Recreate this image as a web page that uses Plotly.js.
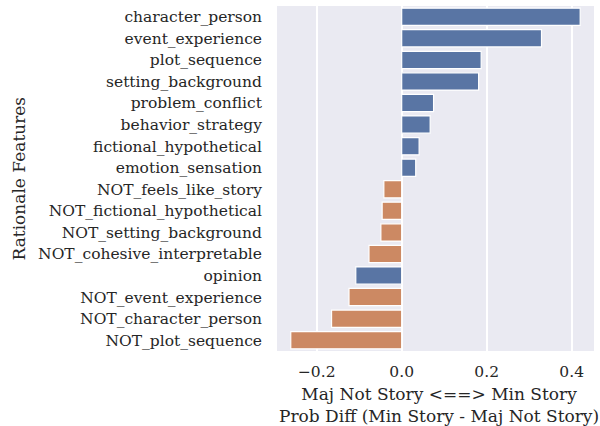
<!DOCTYPE html>
<html>
<head>
<meta charset="utf-8">
<script src="https://cdn.plot.ly/plotly-3.0.1.min.js"></script>
<style>html,body{margin:0;padding:0;background:#fff;}#chart{width:600px;height:426px;}</style>
</head>
<body>
<div id="chart"></div>
<script>
const features = [
  "character_person","event_experience","plot_sequence","setting_background",
  "problem_conflict","behavior_strategy","fictional_hypothetical","emotion_sensation",
  "NOT_feels_like_story","NOT_fictional_hypothetical","NOT_setting_background",
  "NOT_cohesive_interpretable","opinion","NOT_event_experience","NOT_character_person",
  "NOT_plot_sequence"
];
const probDiff = [0.420, 0.329, 0.187, 0.181, 0.075, 0.067, 0.041, 0.033,
  -0.042, -0.046, -0.049, -0.077, -0.108, -0.124, -0.165, -0.261];
const isNegatedFeature = features.map(f => f.startsWith("NOT_"));
const xTickVals = [-0.2, 0.0, 0.2, 0.4];

const BLUE = "#5975a4", ORANGE = "#cc8963", TXT = "#262626";
const serif = "'DejaVu Serif', 'Liberation Serif', serif";

const trace = {
  type: "bar",
  orientation: "h",
  x: probDiff,
  y: features,
  marker: {
    color: isNegatedFeature.map(n => n ? ORANGE : BLUE),
    line: {color: "#ffffff", width: 1.2}
  },
  hoverinfo: "x+y"
};

const layout = {
  width: 600, height: 426,
  margin: {l: 277, r: 6, t: 6, b: 75},
  paper_bgcolor: "#ffffff",
  plot_bgcolor: "#eaeaf2",
  bargap: 0.2,
  showlegend: false,
  font: {family: serif, color: TXT, size: 15.5},
  xaxis: {
    range: [-0.2934, 0.4525],
    tickvals: xTickVals,
    tickformat: ".1f",
    showgrid: true, gridcolor: "#ffffff", gridwidth: 1.5,
    zeroline: false, showline: false, ticks: "",
    ticklabelstandoff: 9,
    tickfont: {family: serif, size: 15.5, color: TXT},
    fixedrange: true
  },
  yaxis: {
    type: "category",
    categoryorder: "array",
    categoryarray: features,
    range: [15.5, -0.5],
    showgrid: false, zeroline: false, showline: false, ticks: "",
    ticklabelstandoff: 14,
    tickfont: {family: serif, size: 15.5, color: TXT},
    fixedrange: true
  },
  annotations: [
    {text: "Maj Not Story <==> Min Story<br>Prob Diff (Min Story - Maj Not Story)",
     xref: "paper", yref: "paper", x: 0.51, y: (426 - 75 - 405) / 345, xanchor: "center", yanchor: "middle",
     align: "center",
     showarrow: false, font: {family: serif, size: 17, color: TXT}},
    {text: "Rationale Features", textangle: -90,
     xref: "paper", yref: "paper", x: (18 - 277) / 317, y: 0.5, xanchor: "center", yanchor: "middle",
     showarrow: false, font: {family: serif, size: 17, color: TXT}}
  ]
};

Plotly.newPlot("chart", [trace], layout, {displayModeBar: false});
</script>
</body>
</html>
